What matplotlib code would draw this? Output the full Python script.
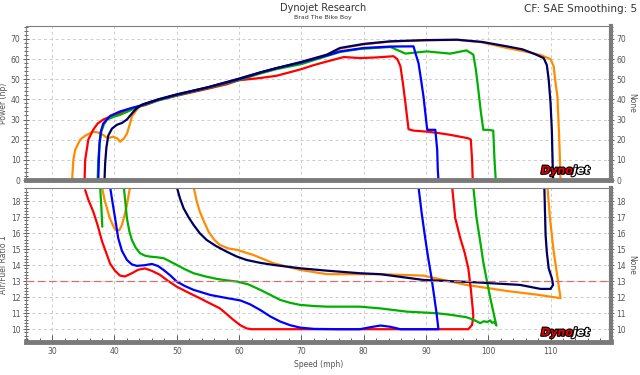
import numpy as np
import matplotlib
matplotlib.use("Agg")
import matplotlib.pyplot as plt
import matplotlib.patheffects as pe
from matplotlib.ticker import MultipleLocator

nan = np.nan

# ---- power runs (speed mph, power hp) ----
orange_spd = [33.2, 33.4, 33.7, 34.5, 35.3, 36.6, 37.4, 38.2, 38.9, 39.8, 40.5, 40.9, 41.5, 42.0, 42.5,
              42.8, 43.5, 44.1, 45, 47, 50, 55, 60, 63.4, 66, 70, 74.1, 76.2, 80, 84.3, 90, 95, 99, 103,
              105.5, 108.4, 110.0, 110.5, 110.8, 111.1, 111.4, 111.6]
orange_hp = [0, 10, 15, 20, 22, 24, 23.5, 22.3, 20.7, 21.5, 20.5, 19, 20.5, 23, 28,
             31.5, 34.5, 36.8, 37.7, 40, 42.3, 46, 50.2, 53.2, 55.3, 58.3, 62, 65.2, 67.3, 68.7, 69.3, 69.5, 68.3, 65.5,
             64, 62, 60, 56.4, 48, 41.4, 20, 0]

red_spd = [35.2, 35.3, 35.8, 36.6, 37.3, 38.2, 39.8, 41.5, 43, 45, 47, 50, 55, 58, 60, 63.4, 66, 68.7, 70,
           72, 74.1, 76.8, 79.4, 82, 84.8, 85.4, 85.9, 86.3, 86.7, 87.2, 88, 90.1, 92, 93.9, 96.8, 97.2, 97.4, 97.5]
red_hp = [0, 10, 20, 25, 28, 30, 32, 33.8, 35.7, 37.2, 39.5, 41.8, 45.3, 47.5, 49.5, 50.6, 51.7, 53.9, 55,
          57, 58.8, 61, 60.5, 60.8, 61.4, 60, 56.4, 48, 38.2, 25.2, 24.5, 24, 23.3, 22.4, 20.7, 20, 10, 0]

green_spd = [37.3, 37.4, 37.6, 37.9, 38.3, 38.8, 40.0, 40.9, 42.5, 44, 47, 50, 55, 60, 63.4, 66, 70, 74.1, 76.2,
             79.4, 84.3, 86.7, 90.1, 93.9, 96.5, 97.6, 98.0, 98.4, 98.8, 99.2, 100.0, 100.8, 101.0, 101.2]
green_hp = [0, 10, 18, 24, 27.5, 30, 31.5, 32.3, 34.5, 36.5, 39.5, 42, 45.7, 49.6, 52.8, 55, 57.5, 61.5, 63.5,
            65, 66, 62.7, 63.8, 62.7, 64.3, 62.2, 55, 44.8, 34, 24.9, 24.9, 24.5, 10, 0]

blue_spd = [37.4, 37.5, 37.6, 37.8, 38.2, 39.3, 40.9, 42.5, 44, 47, 50, 55, 60, 63.4, 66, 70, 74.1, 76.2, 80,
            84.3, 88, 88.4, 88.8, 89.2, 89.6, 90.2, 91.5, 91.8, 91.9, 92.0]
blue_hp = [0, 10, 18, 24, 28, 31.8, 34, 35.5, 36.8, 39.8, 42.3, 46, 50, 53.3, 55.5, 58.3, 61.8, 63.8, 65.5,
           66.2, 66.3, 62, 58, 50, 41.4, 24.9, 24.9, 15, 5, 0]

navy_spd = [38.4, 38.5, 38.7, 39.0, 39.6, 40.4, 41.2, 42.0, 42.8, 43.6, 44.5, 47, 50, 55, 60, 63.4, 66, 70,
            74.1, 76.2, 80, 84.3, 90, 95, 99, 103, 105.5, 107.3, 108.9, 109.4, 109.7, 110.0, 110.2, 110.4]
navy_hp = [0, 8, 16, 22, 25.5, 27.4, 28.3, 30, 33, 35.7, 37.5, 40, 42.5, 46, 50.3, 53.4, 55.5, 58.6,
           62.2, 65.5, 67.5, 68.8, 69.4, 69.6, 68.5, 66.3, 64.8, 62.7, 60.5, 57, 49.8, 38, 24.9, 0]

# ---- air/fuel runs (speed mph, AFR) ----
orange_afr_spd = [38.0, 38.4, 38.8, 39.2, 39.6, 40.0, 40.4, 40.8, 41.2, 41.6, 42.0, 42.5, nan,
                  52.7, 53.2, 53.7, 54.4, 55.1, 56.0, 56.9, 58.3, 59.7, 62.3, 65.5, 69.8, 74.1, 79.4, 82.7,
                  89.6, 96.5, 103.0, 108.0, 111.6, 110.5, 109.9, 109.5]
orange_afr = [18.9, 18.1, 17.56, 17.0, 16.63, 16.3, 16.17, 16.2, 16.52, 17.1, 17.77, 18.9, nan,
              18.9, 18.0, 17.35, 16.7, 16.1, 15.6, 15.27, 15.05, 14.96, 14.64, 14.13, 13.71, 13.44, 13.44, 13.44,
              13.35, 12.77, 12.39, 12.15, 11.94, 14.85, 16.94, 18.9]

red_afr_spd = [35.3, 35.8, 36.6, 37.3, 38.0, 38.7, 39.3, 40.1, 40.9, 41.7, 42.8, 43.8, 44.9, 46.0, 47.3,
               48.5, 50.0, 51.8, 53.7, 55.3, 56.9, 58.0, 59.1, 60.2, 61.2, 62.0, 70, 80, 90, 96.8, 97.4,
               97.6, 97.5, 97.2, 96.8, 96.2, 95.5, 94.7, 94.2]
red_afr = [18.7, 18.1, 17.35, 16.5, 15.5, 14.75, 14.1, 13.65, 13.35, 13.3, 13.5, 13.72, 13.8, 13.65, 13.4,
           13.05, 12.66, 12.3, 11.94, 11.62, 11.31, 10.95, 10.58, 10.25, 10.05, 10.0, 10.0, 10.0, 10.0, 10.0, 10.27,
           10.8, 11.3, 12.5, 13.8, 14.8, 15.7, 16.94, 18.9]

green_afr_spd = [37.7, 37.9, 38.05, nan,
                 41.5, 42.0, 42.4, 42.8, 43.4, 44.1, 44.9, 45.7, 46.8, 47.9, 50.0, 51.3, 52.7, 54.6, 56.5,
                 58.1, 59.7, 61.5, 63.4, 65.0, 66.6, 68.2, 69.8, 72, 74.1, 79.4, 82.7, 86.9, 91.7, 94, 96.5,
                 97.6, 98.7, 99.3, 99.8, 100.3, 100.6, 101.0, 101.3, 100.8, 100.3, 99.8, 99.2, 98.7, 98.1, 97.6]
green_afr = [18.9, 17.6, 16.41, nan,
             18.9, 16.94, 16.1, 15.58, 15.1, 14.75, 14.6, 14.54, 14.5, 14.44, 14.02, 13.75, 13.5, 13.3, 13.14,
             13.05, 12.98, 12.8, 12.46, 12.15, 11.83, 11.65, 11.52, 11.45, 11.41, 11.41, 11.3, 11.1, 11.0, 10.9, 10.75,
             10.6, 10.38, 10.5, 10.45, 10.55, 10.4, 10.45, 10.23, 11.1, 12.0, 12.98, 14.2, 15.5, 17.0, 18.9]

blue_afr_spd = [39.3, 39.7, 40.1, 40.6, 41.2, 42.0, 42.8, 43.6, 44.8, 46.0, 47.0, 47.9, 49.0, 50.0, 51.3,
                52.7, 55.4, 58.0, 60.2, 61.8, 63.4, 65.0, 66.6, 68.2, 69.8, 72, 76, 79.4, 81, 82.7, 84.3,
                85.9, 88, 92.0, 91.7, 91.3, 90.9, 90.3, 89.8, 89.3, 88.8]
blue_afr = [18.9, 17.9, 16.94, 15.7, 14.9, 14.33, 14.05, 13.96, 14.0, 14.08, 13.95, 13.7, 13.35, 12.98, 12.7,
            12.46, 12.14, 11.95, 11.8, 11.55, 11.2, 10.8, 10.48, 10.25, 10.1, 10.02, 10.0, 10.0, 10.12, 10.23, 10.15,
            10.0, 10.0, 10.0, 11.0, 12.1, 13.19, 14.6, 15.9, 17.3, 18.9]

navy_afr_spd = [50.0, 50.5, 51.1, 51.9, 52.7, 53.7, 54.8, 56.3, 58.0, 59.6, 61.2, 63.4, 65.5, 69.8, 74.1,
                79.4, 82.7, 89.6, 97.6, 105.1, 108.4, 110.0, 110.4, 110.2, 109.7, 109.4, 109.2, 109.0]
navy_afr = [18.9, 18.2, 17.56, 17.0, 16.52, 16.0, 15.58, 15.2, 14.85, 14.55, 14.33, 14.15, 14.02, 13.81, 13.66,
            13.5, 13.44, 13.08, 12.94, 12.77, 12.52, 12.52, 12.77, 13.2, 13.8, 14.8, 15.9, 18.9]

afr_target = 13

colors = {"orange": "#ff8c00", "red": "#ff0000", "green": "#00b000", "blue": "#0000ff", "navy": "#00005e"}
tick_col = "#555555"
fs = 5.5

fig = plt.figure(figsize=(6.4, 3.75), dpi=100)
ax1 = fig.add_axes([26 / 640, 1 - 180 / 375, 585 / 640, 154 / 375])
ax2 = fig.add_axes([26 / 640, 1 - 342 / 375, 585 / 640, 154 / 375])

power = [("orange", orange_spd, orange_hp), ("red", red_spd, red_hp), ("green", green_spd, green_hp),
         ("blue", blue_spd, blue_hp), ("navy", navy_spd, navy_hp)]
afr = [("orange", orange_afr_spd, orange_afr), ("red", red_afr_spd, red_afr), ("green", green_afr_spd, green_afr),
       ("blue", blue_afr_spd, blue_afr), ("navy", navy_afr_spd, navy_afr)]

for name, x, y in power:
    ax1.plot(x, y, color=colors[name], lw=1.6, solid_capstyle="round")
for name, x, y in afr:
    ax2.plot(x, y, color=colors[name], lw=1.6, solid_capstyle="round")
ax2.axhline(afr_target, color="#d07070", lw=0.9, ls=(0, (6, 3)))

ax1.set_ylim(0, 76.4)
ax2.set_ylim(9.2, 18.83)
for ax in (ax1, ax2):
    ax.set_xlim(25.8, 119.7)
    ax.xaxis.set_major_locator(MultipleLocator(10))
    ax.xaxis.set_minor_locator(MultipleLocator(2))
    ax.grid(True, which="major", color="#cccccc", lw=0.7, ls=(0, (3, 3)))
    ax.set_axisbelow(True)
    for s in ("top", "left"):
        ax.spines[s].set_color("#808080")
        ax.spines[s].set_linewidth(0.8)
    ax.spines["bottom"].set_color("#7a7a7a")
    ax.spines["bottom"].set_linewidth(3.5)
    ax.spines["right"].set_color("#7a7a7a")
    ax.spines["right"].set_linewidth(3.0)
    ax.tick_params(axis="y", which="both", left=True, right=True, labelleft=True, labelright=True,
                   direction="inout", colors="#444444", labelcolor=tick_col, labelsize=fs, width=0.6, pad=1.5)
    ax.tick_params(axis="y", which="major", length=5)
    ax.tick_params(axis="y", which="minor", length=3)
    ax.tick_params(axis="x", which="both", direction="in", colors="#444444", labelcolor=tick_col,
                   labelsize=fs, width=0.6)
    ax.tick_params(axis="x", which="major", length=5)
    ax.tick_params(axis="x", which="minor", length=3)

ax1.yaxis.set_major_locator(MultipleLocator(10))
ax1.yaxis.set_minor_locator(MultipleLocator(2))
ax1.tick_params(axis="x", which="both", bottom=False, labelbottom=False)
ax2.yaxis.set_major_locator(MultipleLocator(1))
ax2.yaxis.set_minor_locator(MultipleLocator(0.2))

ax1.set_ylabel("Power (hp)", fontsize=fs, color=tick_col)
ax2.set_ylabel("Air/Fuel Ratio 1", fontsize=fs, color=tick_col)
for ax in (ax1, ax2):
    ax.yaxis.set_label_coords(-0.031, 0.5)
ax2.set_xlabel("Speed (mph)", fontsize=fs, color=tick_col, labelpad=3)
for ax in (ax1, ax2):
    ax.text(1.035, 0.5, "None", transform=ax.transAxes, rotation=270, fontsize=fs, color=tick_col,
            ha="center", va="center")
    # dynojet logo
    ax.text(0.935, 0.06, "Dyno", transform=ax.transAxes, ha="right", va="center", fontsize=8,
            fontweight="bold", style="italic", color="#e00000",
            path_effects=[pe.withStroke(linewidth=1.6, foreground="black")])
    ax.text(0.935, 0.06, "jet", transform=ax.transAxes, ha="left", va="center", fontsize=8,
            fontweight="bold", style="italic", color="white",
            path_effects=[pe.withStroke(linewidth=1.6, foreground="black")])

fig.text(0.505, 0.978, "Dynojet Research", ha="center", va="center", fontsize=7, color="#333333")
fig.text(0.505, 0.952, "Brad The Bike Boy", ha="center", va="center", fontsize=4.5, color="#333333")
fig.text(0.995, 0.975, "CF: SAE Smoothing: 5", ha="right", va="center", fontsize=7.5, color="#333333")

fig.savefig("out.png", dpi=100)
